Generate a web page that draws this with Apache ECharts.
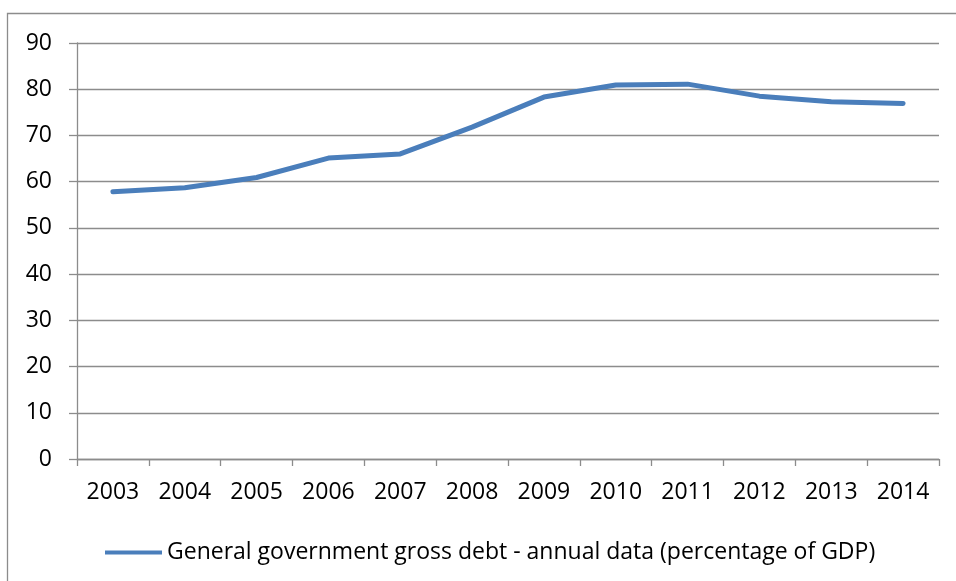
<!DOCTYPE html>
<html><head><meta charset="utf-8">
<script src="https://cdn.jsdelivr.net/npm/echarts@6/dist/echarts.min.js"></script>
<style>html,body{margin:0;padding:0;background:#fff}#c{width:956px;height:581px}</style>
</head><body><div id="c"></div>
<script>
const years = ['2003','2004','2005','2006','2007','2008','2009','2010','2011','2012','2013','2014'];
const debt = [57.8, 58.7, 60.9, 65.1, 66.0, 71.8, 78.3, 80.9, 81.1, 78.5, 77.3, 76.9];
const seriesName = 'General government gross debt - annual data (percentage of GDP)';
const font = 'Open Sans';
const chart = echarts.init(document.getElementById('c'), null, {renderer:'canvas'});
chart.setOption({
  animation:false,
  backgroundColor:'#fff',
  graphic:[{type:'rect', shape:{x:7.5,y:13.5,width:1000,height:1000}, style:{fill:null, stroke:'#8c8c8c', lineWidth:1.3}, silent:true}],
  grid:{left:77, right:17, top:43, bottom:122, containLabel:false},
  xAxis:{type:'category', data:years, boundaryGap:true,
    axisLine:{lineStyle:{color:'#8c8c8c', width:1.3}},
    axisTick:{show:true, length:7, inside:false, alignWithLabel:false, lineStyle:{color:'#8c8c8c', width:1.3}},
    axisLabel:{color:'#000', fontFamily:font, fontSize:23, margin:22, interval:0},
    splitLine:{show:false}},
  yAxis:{type:'value', min:0, max:90, interval:10,
    axisLine:{show:true, lineStyle:{color:'#8c8c8c', width:1.3}},
    axisTick:{show:true, length:8, lineStyle:{color:'#8c8c8c', width:1.3}},
    axisLabel:{color:'#000', fontFamily:font, fontSize:23, margin:25},
    splitLine:{show:true, lineStyle:{color:'#8c8c8c', width:1.3}}},
  legend:{show:true, left:100, top:536, itemWidth:57, itemHeight:14, itemGap:5,
    textStyle:{color:'#000', fontFamily:font, fontSize:23},
    data:[{name:seriesName, icon:'path://M0,5 L54,5 L54,9 L0,9 Z'}]},
  series:[{name:seriesName, type:'line', data:debt, symbol:'none',
    lineStyle:{color:'#4a7ebb', width:5, cap:'round', join:'round'}, itemStyle:{color:'#4a7ebb'}}]
});
</script></body></html>
